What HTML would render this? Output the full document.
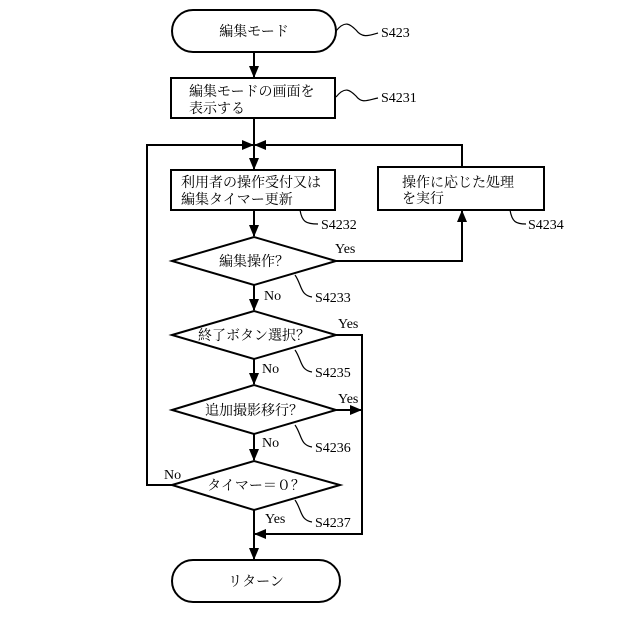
<!DOCTYPE html>
<html><head><meta charset="utf-8"><style>body{margin:0;background:#fff}svg{display:block}</style></head><body>
<svg width="640" height="640" viewBox="0 0 640 640" xmlns="http://www.w3.org/2000/svg" font-family="'Liberation Serif','Noto Serif CJK SC','Noto Sans CJK JP',serif" font-size="14" fill="#000">
<defs><marker id="a" markerWidth="12" markerHeight="10" refX="11" refY="5" orient="auto" markerUnits="userSpaceOnUse"><path d="M0,0 L12,5 L0,10 Z"/></marker></defs>
<g stroke="#000" stroke-width="2" fill="none">
<rect x="172" y="10" width="164" height="42" rx="21"/>
<rect x="171" y="78" width="164" height="40"/>
<rect x="171" y="170" width="164" height="40"/>
<rect x="378" y="167" width="166" height="43"/>
<polygon points="172,261 254,237 336,261 254,285"/>
<polygon points="172,335 254,311 336,335 254,359"/>
<polygon points="172,410 254,385 336,410 254,434"/>
<polygon points="172,485 254,461 340,485 254,510"/>
<rect x="172" y="560" width="168" height="42" rx="21"/>
<line x1="254" y1="52" x2="254" y2="77" marker-end="url(#a)"/>
<line x1="254" y1="118" x2="254" y2="169" marker-end="url(#a)"/>
<line x1="254" y1="210" x2="254" y2="236" marker-end="url(#a)"/>
<line x1="254" y1="285" x2="254" y2="310" marker-end="url(#a)"/>
<line x1="254" y1="359" x2="254" y2="384" marker-end="url(#a)"/>
<line x1="254" y1="434" x2="254" y2="460" marker-end="url(#a)"/>
<line x1="254" y1="510" x2="254" y2="559" marker-end="url(#a)"/>
<polyline points="172,485 147,485 147,145 253,145" marker-end="url(#a)"/>
<polyline points="462,167 462,145 255,145" marker-end="url(#a)"/>
<polyline points="336,261 462,261 462,211" marker-end="url(#a)"/>
<polyline points="336,335 362,335 362,534 255,534" marker-end="url(#a)"/>
<line x1="336" y1="410" x2="361" y2="410" marker-end="url(#a)"/>
<path d="M336,31 C345,20 350,24 356,30 C362,38 368,36 378,33" stroke-width="1.2"/>
<path d="M336,97 C345,86 350,90 356,96 C362,104 368,100 378,98" stroke-width="1.2"/>
<path d="M300,210 C302,222 306,224 318,224" stroke-width="1.2"/>
<path d="M510,210 C512,222 516,224 526,224" stroke-width="1.2"/>
<path d="M295,275 C302,285 300,295 312,297" stroke-width="1.2"/>
<path d="M295,350 C302,360 300,370 312,372" stroke-width="1.2"/>
<path d="M295,425 C302,435 300,445 312,447" stroke-width="1.2"/>
<path d="M295,500 C302,510 300,520 312,522" stroke-width="1.2"/>
</g>
<g font-size="14">
<text x="254" y="36" text-anchor="middle">編集モード</text>
<text x="189" y="96">編集モードの画面を</text>
<text x="189" y="113">表示する</text>
<text x="181" y="187">利用者の操作受付又は</text>
<text x="181" y="204">編集タイマー更新</text>
<text x="402" y="187">操作に応じた処理</text>
<text x="402" y="203">を実行</text>
<text x="254" y="266" text-anchor="middle">編集操作？</text>
<text x="254" y="340" text-anchor="middle">終了ボタン選択？</text>
<text x="254" y="415" text-anchor="middle">追加撮影移行？</text>
<text x="256" y="490" text-anchor="middle">タイマー＝０？</text>
<text x="256" y="586" text-anchor="middle">リターン</text>
<text x="381" y="37">S423</text>
<text x="381" y="102">S4231</text>
<text x="321" y="229">S4232</text>
<text x="528" y="229">S4234</text>
<text x="315" y="302">S4233</text>
<text x="315" y="377">S4235</text>
<text x="315" y="452">S4236</text>
<text x="315" y="527">S4237</text>
<text x="335" y="253">Yes</text>
<text x="264" y="300">No</text>
<text x="338" y="328">Yes</text>
<text x="262" y="373">No</text>
<text x="338" y="403">Yes</text>
<text x="262" y="447">No</text>
<text x="164" y="479">No</text>
<text x="265" y="523">Yes</text>
</g>
</svg>
</body></html>
